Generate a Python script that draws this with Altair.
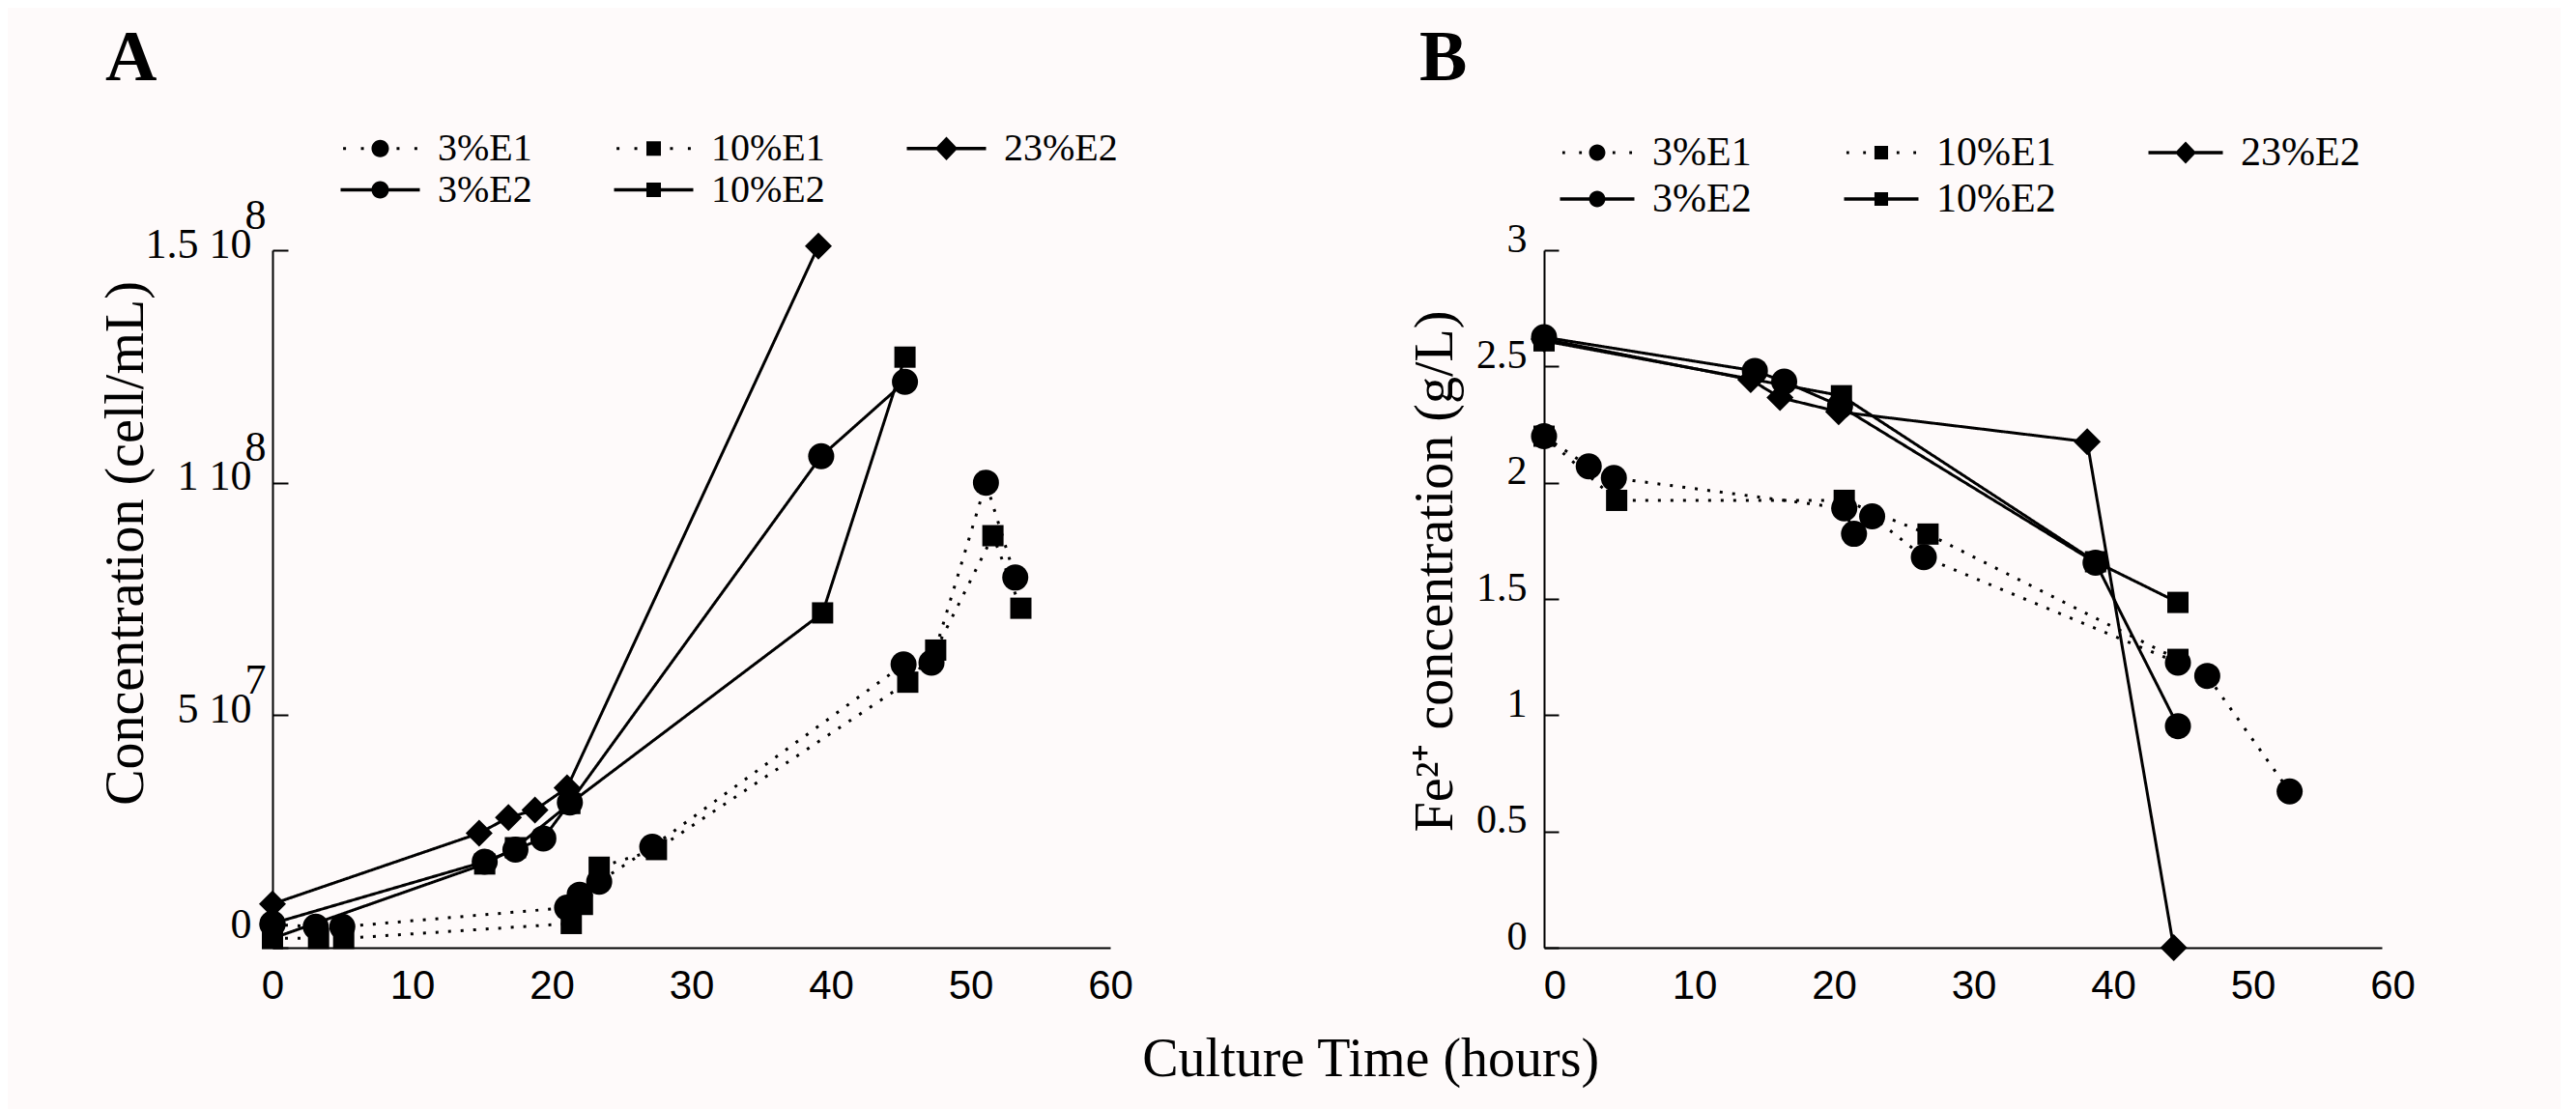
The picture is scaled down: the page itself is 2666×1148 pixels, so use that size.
import altair as alt
import pandas as pd

# ---------------- data ----------------
series_order = ["3%E1", "10%E1", "23%E2", "3%E2", "10%E2"]
legend_order = ["3%E1", "3%E2", "10%E1", "10%E2", "23%E2"]   # column-major fill of a 3-column legend
circle_series = ["3%E1", "3%E2"]
square_series = ["10%E1", "10%E2"]
diamond_series = ["23%E2"]

# Panel A : cell concentration (cell/mL) vs culture time (h)
A_3E1_t = [0, 3.1, 5.0, 21.1, 22.0, 23.4, 27.2, 45.2, 47.2, 51.1, 53.2]
A_3E1_v = [5.0e6, 4.5e6, 4.5e6, 8.6e6, 11.4e6, 14.2e6, 21.7e6, 60.9e6, 61.3e6, 100.0e6, 79.6e6]
A_10E1_t = [0, 3.3, 5.1, 21.4, 22.2, 23.4, 27.5, 45.5, 47.5, 51.6, 53.6]
A_10E1_v = [2.0e6, 2.0e6, 2.0e6, 5.2e6, 9.3e6, 17.3e6, 21.1e6, 57.1e6, 64.0e6, 88.6e6, 73.0e6]
A_23E2_t = [0, 14.8, 16.9, 18.8, 21.1, 39.1]
A_23E2_v = [9.4e6, 24.6e6, 28.0e6, 29.6e6, 34.4e6, 150.9e6]
A_3E2_t = [0, 15.2, 17.4, 19.4, 21.3, 39.3, 45.3]
A_3E2_v = [5.2e6, 18.5e6, 21.1e6, 23.5e6, 31.2e6, 105.7e6, 121.7e6]
A_10E2_t = [0, 15.2, 17.4, 21.3, 39.4, 45.3]
A_10E2_v = [2.0e6, 18.0e6, 21.5e6, 31.0e6, 72.0e6, 127.0e6]

# Panel B : Fe2+ concentration (g/L) vs culture time (h)
B_3E1_t = [0, 3.2, 5.0, 21.5, 22.2, 23.5, 27.2, 45.4, 47.5, 53.4]
B_3E1_v = [2.20, 2.07, 2.02, 1.89, 1.78, 1.855, 1.68, 1.226, 1.169, 0.672]
B_10E1_t = [0, 5.2, 21.5, 27.5, 45.4]
B_10E1_v = [2.20, 1.924, 1.924, 1.779, 1.24]
B_23E2_t = [0, 14.8, 16.9, 21.1, 38.9, 45.1]
B_23E2_v = [2.618, 2.443, 2.366, 2.305, 2.176, 0.0]
B_3E2_t = [0, 15.1, 17.2, 21.2, 39.5, 45.4]
B_3E2_v = [2.626, 2.481, 2.435, 2.33, 1.656, 0.953]
B_10E2_t = [0, 21.3, 39.5, 45.4]
B_10E2_v = [2.61, 2.374, 1.66, 1.485]

# axis texts
x_ticks = [0, 10, 20, 30, 40, 50, 60]
A_yticks = [0, 50000000, 100000000, 150000000]
A_ylabels = ["0", "5 10", "1 10", "1.5 10"]
A_yexps = ["", "7", "8", "8"]
B_yticks = [0, 0.5, 1, 1.5, 2, 2.5, 3]
A_title = "A"
B_title = "B"
A_ytitle = "Concentration (cell/mL)"
B_ytitle = "Fe\u00b2\u207a concentration (g/L)"
x_title = "Culture Time (hours)"

# ---------------- helpers ----------------
def frame(pairs):
    rows = []
    for name, ts, vs in pairs:
        for t, v in zip(ts, vs):
            rows.append({"series": name, "t": t, "v": v, "lg": name})
    return pd.DataFrame(rows)

dfA = frame([("3%E1", A_3E1_t, A_3E1_v), ("10%E1", A_10E1_t, A_10E1_v),
             ("23%E2", A_23E2_t, A_23E2_v), ("3%E2", A_3E2_t, A_3E2_v),
             ("10%E2", A_10E2_t, A_10E2_v)])
dfB = frame([("3%E1", B_3E1_t, B_3E1_v), ("10%E1", B_10E1_t, B_10E1_v),
             ("23%E2", B_23E2_t, B_23E2_v), ("3%E2", B_3E2_t, B_3E2_v),
             ("10%E2", B_10E2_t, B_10E2_v)])

def label_expr(vals, labels):
    expr = "''"
    for v, l in reversed(list(zip(vals, labels))):
        expr = f"datum.value == {v} ? '{l}' : ({expr})"
    return expr

SERIF = "Liberation Serif"
SANS = "Liberation Sans"

dash_styles = [[3, 10], [3, 10], [1, 0], [1, 0], [1, 0]]

# legend symbols (filled outlines only): a line, dotted or solid, with the marker in the middle
def _dot(cx):
    return f"M{cx - 0.073:.3f},-0.073h0.146v0.146h-0.146Z"
DOTS = _dot(-1.8) + _dot(-0.9) + _dot(0.9) + _dot(1.8)
LINE = "M-2,-0.085H-0.42V0.085H-2ZM0.42,-0.085H2V0.085H0.42Z"
LINE_SQ = "M-2,-0.085H-0.36V0.085H-2ZM0.36,-0.085H2V0.085H0.36Z"
LINE_DI = "M-2,-0.085H-0.5V0.085H-2ZM0.5,-0.085H2V0.085H0.5Z"
CIRC = "M0.44,0A0.44,0.44,0,1,1,-0.44,0A0.44,0.44,0,1,1,0.44,0Z"
SQR = "M-0.366,-0.366H0.366V0.366H-0.366Z"
DIAM = "M0,-0.6L0.57,0L0,0.6L-0.57,0Z"
legend_paths = [DOTS + CIRC, LINE + CIRC, DOTS + SQR, LINE_SQ + SQR, LINE_DI + DIAM]


def panel(df, ydom, main_axis, tick_axis, xlabel_off, legend, title_dx, title_off, title_text):
    x_axis = alt.Axis(values=x_ticks, format="d", ticks=False, domain=True,
                      domainColor="black", domainWidth=2, labelFont=SANS,
                      labelFontSize=42, labelColor="black", labelPadding=19,
                      labelOffset=xlabel_off, grid=False, title=None, labelFlush=False)
    x_enc = alt.X("t:Q", scale=alt.Scale(domain=[0, 60], nice=False), axis=x_axis)
    lines = alt.Chart(df).mark_line(color="black", strokeWidth=3).encode(
        x=x_enc,
        y=alt.Y("v:Q", scale=alt.Scale(domain=ydom, nice=False, zero=False), axis=main_axis),
        strokeDash=alt.StrokeDash("series:N", scale=alt.Scale(domain=series_order, range=dash_styles), legend=None),
        detail="series:N",
        order="t:Q",
    )

    def markers(names, shape, size, axis):
        return alt.Chart(df).transform_filter(
            alt.FieldOneOfPredicate(field="series", oneOf=names)).mark_point(
            filled=True, color="black", opacity=1, shape=shape, size=size).encode(
            x=x_enc, y=alt.Y("v:Q", axis=axis))

    circ = markers(circle_series, "circle", 729, tick_axis)
    sq = markers(square_series, "square", 484, None)
    dia = markers(diamond_series, "diamond", 784, None)
    leg = alt.Chart(df).transform_filter("false").mark_point(
        filled=True, color="black", opacity=1).encode(
        shape=alt.Shape("lg:N", scale=alt.Scale(domain=legend_order, range=legend_paths), legend=legend),
    )
    return alt.layer(lines, circ, sq, dia, leg).resolve_axis(y="independent").properties(
        width=867, height=722,
        title=alt.TitleParams(title_text, anchor="start", frame="group", font=SERIF, fontSize=74,
                              fontWeight="bold", color="black", dx=title_dx, offset=title_off))


# panel A axes
A_main = alt.Axis(orient="left", values=A_yticks, labelExpr=label_expr(A_yticks, A_ylabels),
                  ticks=False, domain=True, domainColor="black", domainWidth=2,
                  labelFont=SERIF, labelFontSize=44, labelColor="black", labelPadding=22,
                  labelOffset={"condition": {"test": "datum.value === 0", "value": -24}, "value": -6},
                  grid=False, title=A_ytitle, titleFont=SERIF, titleFontSize=56,
                  titleFontWeight="normal", titleColor="black", titleAngle=270,
                  titleBaseline="alphabetic", titleAlign="center", titleX=-135, titleY=303)
A_tick = alt.Axis(orient="left", values=A_yticks, labelExpr=label_expr(A_yticks, A_yexps),
                  offset=-16, tickSize=16, tickWidth=2, tickColor="black", domain=False,
                  labelFont=SERIF, labelFontSize=44, labelColor="black", labelPadding=7,
                  labelOffset=-36, grid=False, title=None)
B_main = alt.Axis(orient="left", values=B_yticks, format="~g",
                  ticks=False, domain=True, domainColor="black", domainWidth=2,
                  labelFont=SERIF, labelFontSize=42, labelColor="black", labelPadding=18,
                  labelOffset=-12, grid=False, title=B_ytitle, titleFont=SERIF, titleFontSize=56,
                  titleFontWeight="normal", titleColor="black", titleAngle=270,
                  titleBaseline="alphabetic", titleAlign="center", titleX=-96, titleY=332)
B_tick = alt.Axis(orient="left", values=B_yticks, labels=False,
                  offset=-15, tickSize=15, tickWidth=2, tickColor="black", domain=False,
                  grid=False, title=None)

A_leg = alt.Legend(orient="none", legendX=91, legendY=-126, columns=3, title=None,
                   symbolSize=1681, symbolStrokeWidth=0, symbolFillColor="black",
                   symbolOpacity=1, labelFont=SERIF, labelFontSize=40,
                   labelColor="black", labelOffset=39, columnPadding=84, rowPadding=2,
                   padding=0, labelLimit=0)
B_leg = alt.Legend(orient="none", legendX=34, legendY=-122, columns=3, title=None,
                   symbolSize=1482, symbolStrokeWidth=0, symbolFillColor="black",
                   symbolOpacity=1, labelFont=SERIF, labelFontSize=42,
                   labelColor="black", labelOffset=36, columnPadding=95, rowPadding=6,
                   padding=0, labelLimit=0)

pA = panel(dfA, [0, 150000000], A_main, A_tick, 0, A_leg, -173, 34, A_title)
pB = panel(dfB, [0, 3], B_main, B_tick, 11, B_leg, -129, 38, B_title)

chart = alt.hconcat(pA, pB, spacing=283).resolve_scale(
    shape="independent", strokeDash="independent").properties(
    title=alt.TitleParams(x_title, orient="bottom", anchor="middle", font=SERIF, fontSize=56,
                          fontWeight="normal", color="black", offset=29, dx=118),
    padding={"left": 94, "top": 16, "right": 150, "bottom": 30},
    background="#fefafa",
).configure_view(stroke=None)

chart.save("out.html", embed_options={"renderer": "svg", "actions": False})
